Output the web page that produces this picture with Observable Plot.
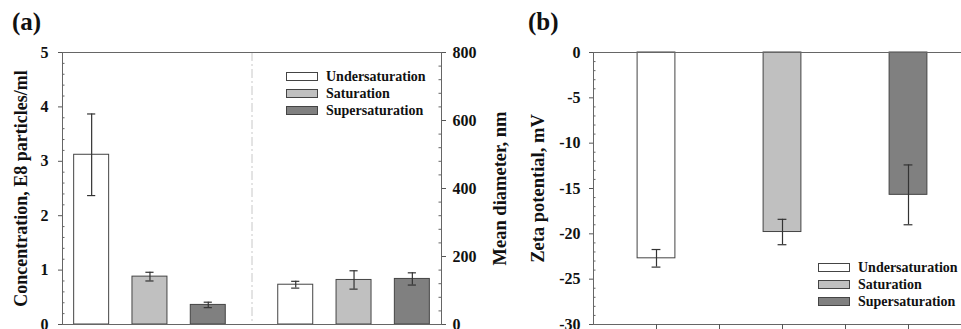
<!DOCTYPE html>
<html><head><meta charset="utf-8">
<script src="https://cdn.jsdelivr.net/npm/d3@7"></script>
<script src="https://cdn.jsdelivr.net/npm/@observablehq/plot@0.6"></script>
<style>
html,body{margin:0;padding:0;background:#fff;overflow:hidden}
#root{position:relative;width:961px;height:329px;font-family:"Liberation Serif","Times New Roman",serif;font-weight:bold;color:#111}
.panel{position:absolute;top:0}
.title{position:absolute;font-size:25px;line-height:1}
.legend{position:absolute;font-size:14px;line-height:17px}
.legend .row{display:flex;align-items:center;height:17px}
.sw{width:30px;height:7px;border:1px solid #444;margin-right:8px}
</style></head><body><div id="root"></div>
<script>
const states = ["Undersaturation", "Saturation", "Supersaturation"];
const stateFill = ["#ffffff", "#c0c0c0", "#808080"];
const concMean = [3.12, 0.88, 0.36];
const concErr = [0.75, 0.08, 0.05];
const diamMean = [117, 131, 134];
const diamErr = [10, 27, 18];
const zetaMean = [-22.7, -19.8, -15.7];
const zetaErr = [0.97, 1.4, 3.3];
const concTicks = [0, 1, 2, 3, 4, 5];
const diamTicks = [0, 200, 400, 600, 800];
const zetaTicks = [0, -5, -10, -15, -20, -25, -30];
const zetaXTicks = [1, 2, 3, 4, 5];
const labelA = "Concentration, E8 particles/ml";
const labelA2 = "Mean diameter, nm";
const labelB = "Zeta potential, mV";

const root = document.getElementById("root");
const k = d3.max(diamTicks) / d3.max(concTicks); // secondary axis factor
const half = 0.3, cap = 0.07;

// panel (a) data
const barsA = [
  ...states.map((s, i) => ({s, i, pos: i + 1, v: concMean[i], e: concErr[i]})),
  ...states.map((s, i) => ({s, i, pos: i + 4.5, v: diamMean[i] / k, e: diamErr[i] / k}))
];
const sep = (3 + 4.5) / 2;
const minorA = d3.range(0, 5.0001, 0.2).filter(d => Math.abs(d - Math.round(d)) > 1e-6);
const minorA2 = d3.range(0, 800, 40).filter(d => d % 200 !== 0).map(d => d / k);

const WA = 520, mlA = 62, mrA = WA - 441;
const innerA = WA - mlA - mrA;
const common = {fontFamily: "Liberation Serif", fontSize: "16px", fontWeight: "bold", background: "transparent", color: "#111", overflow: "visible"};

const plotA = Plot.plot({
  width: WA, height: 329, marginLeft: mlA, marginRight: mrA, marginTop: 52, marginBottom: 5,
  style: common,
  x: {domain: [0.5, 7], axis: null},
  y: {domain: [0, 5], axis: null},
  color: {domain: states, range: stateFill},
  marks: [
    Plot.ruleX([sep], {stroke: "#c8c8c8", strokeDasharray: "9,3,2,3"}),
    Plot.rectY(barsA, {x1: d => d.pos - half, x2: d => d.pos + half, y1: 0, y2: "v", fill: "s", stroke: "#444", strokeWidth: 1}),
    Plot.ruleX(barsA, {x: "pos", y1: d => d.v - d.e, y2: d => d.v + d.e, stroke: "#333", strokeWidth: 1.2}),
    Plot.ruleY(barsA, {y: d => d.v + d.e, x1: d => d.pos - cap, x2: d => d.pos + cap, stroke: "#333", strokeWidth: 1.2}),
    Plot.ruleY(barsA, {y: d => d.v - d.e, x1: d => d.pos - cap, x2: d => d.pos + cap, stroke: "#333", strokeWidth: 1.2}),
    Plot.frame({stroke: "#666"}),
    Plot.axisY({anchor: "left", ticks: concTicks, tickFormat: d => String(d), tickSize: 4, tickPadding: 10, stroke: "#555", fill: "#111", label: null}),
    Plot.tickY(minorA, {y: d => d, insetRight: innerA - 2.5, stroke: "#666"}),
    Plot.axisY({anchor: "right", ticks: diamTicks.map(d => d / k), tickFormat: d => String(Math.round(d * k)), tickSize: 4, tickPadding: 7, stroke: "#555", fill: "#111", label: null}),
    Plot.tickY(minorA2, {y: d => d, insetLeft: innerA - 2.5, stroke: "#666"}),
    Plot.text([labelA], {frameAnchor: "left", textAnchor: "middle", rotate: -90, dx: -41, fontSize: 18, fill: "#111"}),
    Plot.text([labelA2], {frameAnchor: "right", textAnchor: "middle", rotate: -90, dx: 59, fontSize: 18.5, fill: "#111"})
  ]
});
plotA.classList.add("panel");
plotA.style.left = "0px";
root.appendChild(plotA);

// panel (b)
const barsB = states.map((s, i) => ({s, pos: i * 2 + 1, v: zetaMean[i], e: zetaErr[i]}));
const minorB = d3.range(-30, 0.0001, 1).filter(d => d % 5 !== 0);
const WB = 481, mlB = 113;
const innerB = WB - mlB;
const plotB = Plot.plot({
  width: WB, height: 329, marginLeft: mlB, marginRight: 0, marginTop: 52, marginBottom: 5,
  style: common,
  x: {domain: [0, innerB / 63], axis: null},
  y: {domain: [-30, 0], axis: null},
  color: {domain: states, range: stateFill},
  marks: [
    Plot.rectY(barsB, {x1: d => d.pos - half, x2: d => d.pos + half, y1: 0, y2: "v", fill: "s", stroke: "#444", strokeWidth: 1}),
    Plot.ruleX(barsB, {x: "pos", y1: d => d.v - d.e, y2: d => d.v + d.e, stroke: "#333", strokeWidth: 1.2}),
    Plot.ruleY(barsB, {y: d => d.v + d.e, x1: d => d.pos - cap, x2: d => d.pos + cap, stroke: "#333", strokeWidth: 1.2}),
    Plot.ruleY(barsB, {y: d => d.v - d.e, x1: d => d.pos - cap, x2: d => d.pos + cap, stroke: "#333", strokeWidth: 1.2}),
    Plot.ruleY([0, -30], {stroke: "#666"}),
    Plot.ruleX([0], {stroke: "#666"}),
    Plot.axisY({anchor: "left", ticks: zetaTicks, tickFormat: d => String(d), tickSize: 4, tickPadding: 9, stroke: "#555", fill: "#111", label: null}),
    Plot.tickY(minorB, {y: d => d, insetRight: innerB - 2.5, stroke: "#666"}),
    Plot.axisX({anchor: "bottom", ticks: zetaXTicks, tickSize: 5, tickFormat: () => "", stroke: "#555", label: null}),
    Plot.text([labelB], {frameAnchor: "left", textAnchor: "middle", rotate: -90, dx: -55.5, fontSize: 18.5, fill: "#111"})
  ]
});
plotB.classList.add("panel");
plotB.style.left = "480px";
root.appendChild(plotB);

// titles
function addTitle(t, left) {
  const el = document.createElement("div");
  el.className = "title"; el.textContent = t;
  el.style.left = left + "px"; el.style.top = "9px";
  root.appendChild(el);
}
addTitle("(a)", 12);
addTitle("(b)", 528);

// legends
function addLegend(left, top) {
  const lg = document.createElement("div");
  lg.className = "legend";
  lg.style.left = left + "px"; lg.style.top = top + "px";
  states.forEach((s, i) => {
    const row = document.createElement("div"); row.className = "row";
    const sw = document.createElement("span"); sw.className = "sw"; sw.style.background = stateFill[i];
    const tx = document.createElement("span"); tx.textContent = s;
    row.appendChild(sw); row.appendChild(tx); lg.appendChild(row);
  });
  root.appendChild(lg);
}
addLegend(286, 68);
addLegend(818, 259);
</script></body></html>
